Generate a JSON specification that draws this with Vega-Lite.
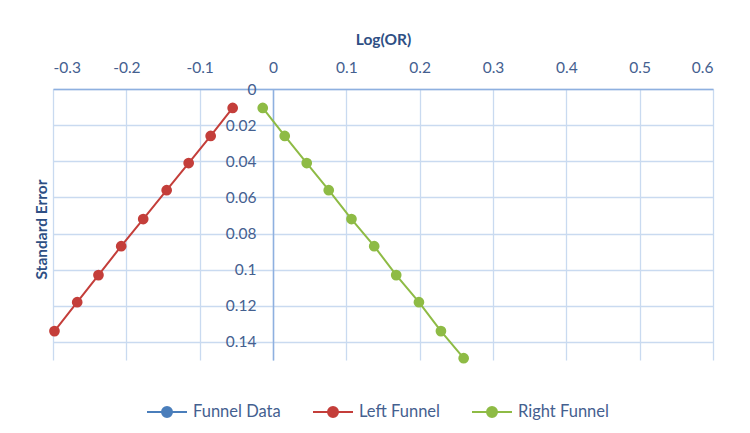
{
  "$schema": "https://vega.github.io/schema/vega-lite/v6.json",
  "width": 660,
  "height": 271,
  "autosize": "none",
  "padding": {"left": 53, "top": 89, "right": 37, "bottom": 73},
  "background": "white",
  "data": {
    "values": [
      {"series": "Left Funnel", "logor": -0.055, "se": 0.0105},
      {"series": "Left Funnel", "logor": -0.085, "se": 0.026},
      {"series": "Left Funnel", "logor": -0.115, "se": 0.041},
      {"series": "Left Funnel", "logor": -0.145, "se": 0.056},
      {"series": "Left Funnel", "logor": -0.177, "se": 0.072},
      {"series": "Left Funnel", "logor": -0.207, "se": 0.087},
      {"series": "Left Funnel", "logor": -0.238, "se": 0.103},
      {"series": "Left Funnel", "logor": -0.267, "se": 0.118},
      {"series": "Left Funnel", "logor": -0.298, "se": 0.134},
      {"series": "Right Funnel", "logor": -0.014, "se": 0.0105},
      {"series": "Right Funnel", "logor": 0.016, "se": 0.026},
      {"series": "Right Funnel", "logor": 0.046, "se": 0.041},
      {"series": "Right Funnel", "logor": 0.076, "se": 0.056},
      {"series": "Right Funnel", "logor": 0.107, "se": 0.072},
      {"series": "Right Funnel", "logor": 0.138, "se": 0.087},
      {"series": "Right Funnel", "logor": 0.168, "se": 0.103},
      {"series": "Right Funnel", "logor": 0.199, "se": 0.118},
      {"series": "Right Funnel", "logor": 0.229, "se": 0.134},
      {"series": "Right Funnel", "logor": 0.26, "se": 0.149}
    ]
  },
  "encoding": {
    "x": {
      "field": "logor", "type": "quantitative",
      "scale": {"domain": [-0.3, 0.6], "nice": false, "zero": false},
      "axis": {
        "orient": "top", "title": "Log(OR)", "values": [-0.3, -0.2, -0.1, 0, 0.1, 0.2, 0.3, 0.4, 0.5, 0.6],
        "format": "~g", "labelExpr": "replace(datum.label, '\u2212', '-')",
        "ticks": false, "labelPadding": 14, "titlePadding": 13,
        "domain": true, "domainColor": "#8EB0E0", "domainWidth": 1.5,
        "grid": true, "gridColor": "#C9DAF0", "gridWidth": 1.3
      }
    },
    "y": {
      "field": "se", "type": "quantitative",
      "scale": {"domain": [0, 0.15], "reverse": true, "nice": false, "zero": false},
      "axis": {
        "orient": "left", "title": "Standard Error", "offset": -220,
        "values": [0, 0.02, 0.04, 0.06, 0.08, 0.1, 0.12, 0.14], "format": "~g",
        "ticks": false, "labelPadding": 17,
        "domain": true, "domainColor": "#8EB0E0", "domainWidth": 1.5,
        "grid": true, "gridColor": "#C9DAF0", "gridWidth": 1.3,
        "titleX": -232, "titleY": 140, "titleAngle": -90, "titleBaseline": "middle", "titleAlign": "center"
      }
    },
    "color": {
      "field": "series", "type": "nominal",
      "scale": {"domain": ["Funnel Data", "Left Funnel", "Right Funnel"], "range": ["#4A7EBB", "#C43E3A", "#8EBB45"]},
      "legend": {
        "title": null, "orient": "none", "direction": "horizontal", "legendX": 93, "legendY": 302,
        "symbolType": "M-1,0H1M0.25,0A0.25,0.25,0,1,1,-0.25,0A0.25,0.25,0,1,1,0.25,0Z",
        "symbolSize": 1600, "symbolStrokeWidth": 2, "symbolOpacity": 1,
        "labelFont": "Lato", "labelFontSize": 16.5, "labelColor": "#44608F", "labelOffset": 5,
        "columnPadding": 28,
        "encode": {"symbols": {"update": {"fill": {"scale": "color", "field": "value"}, "stroke": {"scale": "color", "field": "value"}, "fillOpacity": {"value": 1}, "strokeOpacity": {"value": 1}}}}
      }
    }
  },
  "layer": [
    {"mark": {"type": "line", "strokeWidth": 2, "clip": true}},
    {"mark": {"type": "point", "filled": true, "size": 115, "opacity": 1}}
  ],
  "config": {
    "view": {"stroke": null},
    "axis": {
      "labelFont": "Lato", "labelFontSize": 15.5, "labelColor": "#44608F",
      "titleFont": "Lato", "titleFontSize": 15.5, "titleFontWeight": "bold", "titleColor": "#2E4F84"
    }
  }
}
